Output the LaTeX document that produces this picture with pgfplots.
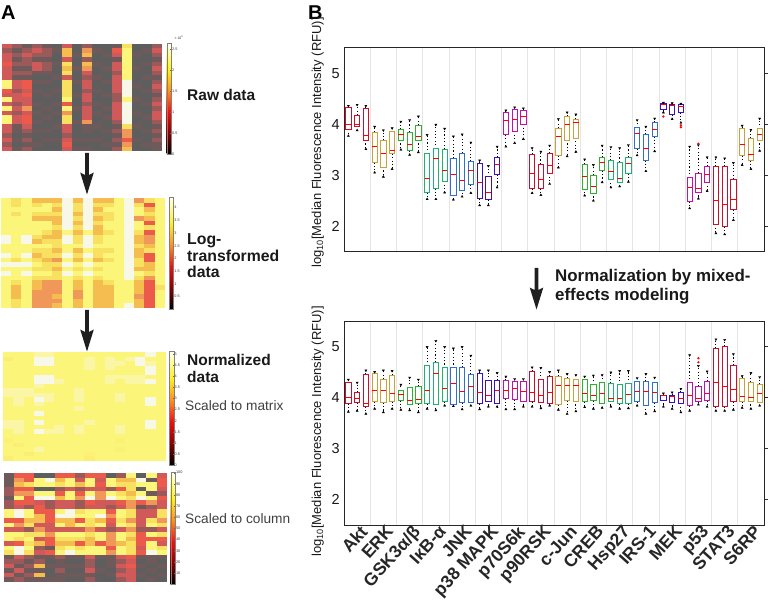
\documentclass[border=0pt]{standalone}
\usepackage{fontspec}
\setmainfont{Liberation Sans}
\usepackage{pgfplots}
\usepackage{pgfplotstable}
\usepgfplotslibrary{statistics}
\pgfplotsset{compat=1.18}

\newcommand\fs[1]{\fontsize{#1}{#1}\selectfont}

\definecolor{cR}{HTML}{C8102E}
\definecolor{cT}{HTML}{C9A23C}
\definecolor{cG}{HTML}{30B030}
\definecolor{cE}{HTML}{20B070}
\definecolor{cB}{HTML}{3070C8}
\definecolor{cI}{HTML}{3A10C0}
\definecolor{cM}{HTML}{C010B0}

% what the cells look like in the figure, and the hot map of the colour bars
\pgfplotsset{
  colormap={cells}{
    HTML(0)=(5E5E5E) HTML(1)=(6E5A5A) HTML(2)=(9A5A5A)
    HTML(3)=(D05A5A) HTML(4)=(EC5A4C) HTML(5)=(F0985A)
    HTML(6)=(F5BC50) HTML(7)=(F8E060) HTML(8)=(FBF57A)
    HTML(9)=(F8F8E8)},
  colormap={hotbar}{
    HTML(0)=(000000) HTML(19)=(8B0000) HTML(38)=(F01010)
    HTML(57)=(FF9020) HTML(76)=(FFF020) HTML(95)=(FFFFC0)
    HTML(100)=(FFFFFF)},
}

% one heat map cell, half sizes in \cw and \ch, filled and never stroked
\pgfdeclareplotmark{cell}{%
  \pgfpathrectangle{\pgfpoint{-\cw pt}{-\ch pt}}{\pgfpoint{2*\cw pt}{2*\ch pt}}%
  \pgfusepathqfill}

\pgfplotstableread[header=false]{
3 2 1 2 1 0 3 0 2 0 0 1 7 0 0 2
2 1 2 3 2 1 6 0 5 1 0 4 8 0 1 3
3 2 3 2 2 0 6 1 6 0 1 3 8 1 0 2
3 1 2 1 1 0 3 0 2 0 0 1 8 0 0 1
4 2 2 3 2 1 7 0 6 1 0 3 8 0 1 2
3 1 1 3 2 0 6 1 5 0 1 3 8 1 0 3
3 2 2 1 1 0 7 0 3 0 0 2 8 0 0 2
3 1 1 0 0 1 3 0 2 1 0 3 8 0 1 1
8 3 4 1 1 0 7 1 3 0 1 3 9 0 0 2
8 3 4 0 0 0 7 0 3 0 0 3 9 1 0 3
4 2 3 1 0 1 7 0 2 1 0 3 9 0 1 2
3 3 4 0 1 0 7 1 3 0 1 2 9 0 0 1
8 3 3 0 0 0 8 0 3 0 0 2 8 1 0 2
3 2 3 1 0 1 4 0 2 1 0 3 9 0 1 3
8 3 5 0 1 0 8 1 3 0 1 3 9 0 0 2
3 2 3 1 0 1 5 0 3 1 0 3 9 1 0 3
8 3 4 0 1 0 7 0 3 0 1 3 9 0 1 3
8 3 4 1 0 0 7 1 5 0 0 2 9 0 0 2
3 1 3 0 0 1 3 0 1 1 0 1 7 1 0 1
3 1 2 1 1 0 3 0 1 0 1 2 5 0 1 2
2 0 1 0 0 0 2 0 0 0 0 1 5 0 0 1
3 1 2 0 1 1 3 1 1 1 0 2 4 1 0 2
2 0 1 1 0 0 4 0 0 0 1 1 5 0 1 1
3 1 2 0 0 0 3 1 1 0 0 2 6 0 0 1
}\heatraw

\pgfplotstableread[header=false]{
8 7 8 6 6 6 9 6 9 6 6 8 9 5 7 8
8 7 8 7 8 7 9 7 9 7 7 8 9 7 4 8
8 8 8 8 8 6 9 7 9 6 8 8 9 8 6 8
8 7 8 7 7 7 9 6 9 7 7 8 9 8 7 8
8 8 8 6 6 6 9 7 9 6 7 8 9 5 6 8
8 8 8 8 8 6 9 6 9 7 8 8 9 8 4 8
8 8 8 8 8 7 9 7 9 6 8 8 9 8 7 8
8 8 8 8 7 6 8 6 8 6 7 8 9 7 4 8
9 8 9 7 6 6 9 7 9 7 8 8 9 6 5 8
9 8 9 6 7 7 9 7 9 7 8 8 9 6 5 8
8 8 8 8 8 7 8 8 9 8 8 8 9 7 6 8
8 8 8 7 7 6 8 6 8 7 7 8 9 6 7 8
9 8 9 6 7 7 9 7 9 7 8 8 9 6 4 8
8 7 8 7 6 5 8 6 8 6 7 8 9 7 4 8
9 9 9 8 7 7 9 8 9 8 8 8 9 7 6 8
8 8 8 7 7 6 8 7 8 7 8 8 9 6 6 8
9 8 9 8 8 7 9 8 9 8 8 8 9 8 7 8
8 8 8 7 7 7 8 7 8 7 8 8 9 7 5 8
8 7 8 6 5 5 8 6 8 6 7 8 8 6 4 8
8 6 8 6 5 5 8 6 8 6 6 8 8 6 4 7
8 6 8 5 5 5 8 5 8 6 6 8 8 6 4 8
8 6 8 5 5 6 8 5 8 6 6 8 8 5 4 8
8 7 8 5 5 5 8 6 8 6 6 8 8 6 4 8
8 7 8 5 5 6 8 6 8 6 6 8 9 6 4 8
}\heatlog

\pgfplotstableread[header=false]{
8 8 8 8.4 8.4 8 8 8 8 8 8 8 8 8 9 8
7.7 8 8 9 9 8 8 8 8.4 8 8.4 8 8.4 9 8 8
8 8 8 9 9 8 8 8 8.4 8 8.4 8.4 8 9 8.4 8
8 8 8 8 8 8 8 8 8.4 8 8.4 8 8 8 9 8
8 8 8 8 8 8 8 8 8 8 8 8 8 8 9 8
8 8 8 9 9 8 8 8 8 8 8.4 8.4 8.4 8.4 8 8
8 8 8 9 9 8.4 8 8 8 8 8.4 8 8.4 8.4 9 8
8 8 8 8.4 8 8 8 8 8 8 8 8 8 8 8 8
8.4 8.4 8.4 8 8 8 8 8.4 8 8 8 8 8 8 8 8
8.4 8.4 8.4 8.4 8.4 8 8 8.4 8 8 8 8.4 8 8 8 8
8 8.4 8 9 8.4 8 8 8.4 8 8 8 8.4 8 8 9 8
8 8.4 8 8.4 8 8 8 8 8 8 8 8 8 8 9 8
8 8 8 8 8 8 8 8.4 8 8 8 8 8 8 8 8
8 8 8 9 8 8 8 8 8 8 8 8 8 8 8 8
8 8 8 8 8 8 8 8 8 8 8 8 8 8 8 8
8.4 8.4 8 9 8 8 8 8 8.4 8 8 8 8 8 9 8
8.4 8.4 8 8 8 8.4 8 8.4 8 8 8 8.4 8 8 9 8
8 8.4 8 9 8.4 8.4 8 8.4 8 8 8 8.4 8 8 8 8
8 8 8 8 8 8 8 8 8 8 8 8 8 8 8 8
7.8 8 8 8 8 8 8 8 8 8 8 7.8 8 8 8 8
8 7.7 8 8 8 8 8 8 8 8 8 8 8 8 8 8
8 8 8 8.4 8 8 8 8 8 8 8 7.8 8 8 8 8
8 8 7.7 8 8 8 8 8 7.8 8 8 8 8 8 8 8
7.7 8 8 8 8 8 8 8 7.7 8 8 8 8 8 8 8
}\heatnorm

\pgfplotstableread[header=false]{
1 4 4 0 0 4 4 2 4 4 0 2 8 0 8 3
1 5 4 8 9 6 8 3 8 3 8 6 6 9 1 4
1 6 7 8 8 7 8 6 8 4 8 7 7 8 8 4
2 4 4 0 0 2 3 2 3 3 2 4 7 0 8 3
2 5 5 8 8 4 8 4 8 5 8 7 6 8 1 2
1 8 4 9 9 6 8 5 9 5 9 8 7 9 8 4
2 4 4 3 2 3 3 2 4 3 3 4 5 4 5 3
2 3 2 4 2 3 3 2 3 3 2 3 5 1 2 3
8 9 8 4 4 8 9 7 8 8 4 8 7 3 3 7
8 9 8 6 4 9 9 8 8 9 5 8 7 3 3 7
4 4 6 6 4 6 6 4 7 6 4 7 5 3 7 5
8 5 7 3 3 8 6 8 7 8 3 8 7 3 8 7
3 3 2 5 3 3 3 3 5 3 2 3 5 2 2 3
8 8 7 7 5 8 8 8 7 8 5 8 7 4 8 7
8 7 8 3 4 7 7 7 6 8 5 8 6 4 4 4
3 4 7 6 4 6 6 4 6 4 5 6 7 4 8 3
8 9 8 2 1 7 8 7 8 8 4 8 7 3 8 7
7 9 7 3 4 8 9 8 8 8 5 8 7 4 9 8
1 3 2 1 1 2 1 1 3 1 1 3 4 1 1 1
2 2 1 2 0 1 0 0 2 0 1 2 3 0 1 0
3 1 2 6 1 1 1 1 2 0 1 3 4 1 0 1
1 3 1 1 0 2 0 0 3 1 0 2 3 0 1 0
3 1 2 6 0 1 1 1 1 0 1 3 3 1 0 1
1 2 1 1 1 1 0 0 2 0 0 2 3 0 1 0
}\heatcol

% #1 x, #2 y of the lower left corner, #3 width, #4 height, #5 table
\newcommand\heat[5]{
  \pgfmathsetmacro\cw{#3/32+0.02}
  \pgfmathsetmacro\ch{#4/48+0.02}
  \begin{axis}[at={(#1pt,#2pt)},anchor=south west,scale only axis,
    width=#3pt,height=#4pt,hide axis,xmin=-0.5,xmax=15.5,ymin=-0.5,ymax=23.5,
    y dir=reverse,colormap name=cells,point meta min=0,point meta max=9]
    \pgfplotsinvokeforeach{0,...,15}{
      \addplot[scatter,only marks,mark=cell,point meta=explicit,
        scatter/use mapped color={draw=none,fill=mapped color}]
        table[x expr=##1,y expr=\coordindex,meta index=##1]{#5};
    }
    % the pale lines between the cells
    \pgfplotsinvokeforeach{0.5,1.5,...,14.5}{
      \draw[white,opacity=0.5,line width=0.7pt] (axis cs:##1,-0.5) -- (axis cs:##1,23.5);
    }
    \pgfplotsinvokeforeach{0.5,1.5,...,22.5}{
      \draw[white,opacity=0.18,line width=0.5pt] (axis cs:-0.5,##1) -- (axis cs:15.5,##1);
    }
  \end{axis}
}

% #1 x, #2 y, #3 height, #4 top of the scale, #5 ticks
\newcommand\cbar[5]{
  \begin{axis}[at={(#1pt,#2pt)},anchor=south west,scale only axis,
    width=4.6pt,height=#3pt,hide axis,colormap name=hotbar,
    point meta min=0,point meta max=#4,colorbar,
    colorbar style={at={(0,0)},anchor=south west,width=4.6pt,height=#3pt,
      ytick={#5},major tick length=1pt,tick align=inside,
      tick style={black!60,line width=0.2pt},
      axis line style={black!50,line width=0.3pt},
      yticklabel style={font=\fs{3.8},black!80,inner sep=0.6pt,
        /pgf/number format/assume math mode=true}}]
    \addplot[draw=none] coordinates {(0,0)(1,1)};
  \end{axis}
}

% colour, position, lower whisker, lower quartile, median, upper quartile, upper whisker
\newcommand\bx[7]{
  \addplot[draw=#1,boxplot prepared={draw position=#2,lower whisker=#3,
    lower quartile=#4,median=#5,upper quartile=#6,upper whisker=#7}] coordinates {};
  \addplot[only marks,mark=triangle*,mark size=1.2pt,black] coordinates {(#2,#3)};
  \addplot[only marks,mark=triangle*,mark size=1.2pt,black,mark options={rotate=180}] coordinates {(#2,#7)};
}

\pgfplotsset{
  boxpanel/.style={at={(344pt,#1pt)},anchor=south west,scale only axis,
    width=420pt,height=204pt,xmin=0.5,xmax=48.5,ymin=1.5,ymax=5.5,
    ytick={2,3,4,5},ytick pos=right,yticklabel pos=left,tick align=outside,
    major tick length=4pt,minor tick length=0pt,
    xtick={2,5,...,47},xtick style={draw=none},
    minor xtick={3.5,6.5,...,45.5},xminorgrids=true,
    minor x grid style={black!10,line width=0.7pt},
    axis line style={black!85,line width=1pt},
    ytick style={black!80,line width=0.7pt},
    yticklabel style={font=\fs{14.5},black!90,inner sep=1pt,xshift=1pt,
      /pgf/number format/assume math mode=true},
    boxplot/draw direction=y,
    boxplot/box extend=0.6,boxplot/whisker extend=0,
    boxplot/every box/.style={line width=0.85pt},
    boxplot/every median/.style={draw=red,line width=0.95pt},
    boxplot/every whisker/.style={draw=black,line width=0.95pt,dash pattern=on 1.1pt off 2.3pt},
  },
}

\begin{document}
\begin{tikzpicture}[x=1pt,y=1pt]
\path[use as bounding box] (0,0) rectangle (770,610);

% panel A
\heat{2}{459}{160}{107}{\heatraw}
\heat{1}{302}{164}{110}{\heatlog}
\heat{3.3}{149.3}{162.4}{108.4}{\heatnorm}
\heat{4}{28}{162.7}{109}{\heatcol}
\cbar{166.7}{456}{110.7}{2.63}{0,0.5,1,1.5,2,2.5}
\cbar{169}{300.7}{112.6}{4.43}{0.5,1,1.5,2,2.5,3,3.5,4}
\cbar{169.3}{145}{114}{5.15}{0,0.5,1,1.5,2,2.5,3,3.5,4,4.5,5}
\cbar{170.7}{25.7}{112.3}{100.6}{10,20,...,100}
\node[font=\fs{3.5},black!80,anchor=base west] at (171,570) {× 10\textsuperscript{5}};

\node[font=\fs{20}\bfseries,anchor=base west,inner sep=0pt] at (1,590) {A};
\node[font=\fs{20}\bfseries,anchor=base west,inner sep=0pt] at (308,590) {B};

\node[font=\fs{15.5}\bfseries,anchor=base west,inner sep=0pt,black!90] at (187,509.5) {Raw data};
\node[font=\fs{15.8}\bfseries,anchor=base west,inner sep=0pt,black!90] at (187,365) {Log-};
\node[font=\fs{15.8}\bfseries,anchor=base west,inner sep=0pt,black!90] at (187,348.3) {transformed};
\node[font=\fs{15.8}\bfseries,anchor=base west,inner sep=0pt,black!90] at (187,332.3) {data};
\node[font=\fs{15.5}\bfseries,anchor=base west,inner sep=0pt,black!90] at (187,244) {Normalized};
\node[font=\fs{15.5}\bfseries,anchor=base west,inner sep=0pt,black!90] at (187,227.3) {data};
\node[font=\fs{13.7},anchor=base west,inner sep=0pt,black!75] at (185,199) {Scaled to matrix};
\node[font=\fs{13.7},anchor=base west,inner sep=0pt,black!75] at (185,86) {Scaled to column};

% arrows between the steps
\foreach \ax/\atop in {87/457,87/300,536.5/342}{
  \fill[black!88] (\ax-1.8,\atop) -- (\ax+1.8,\atop) -- (\ax+1.8,\atop-22)
    -- (\ax+6.8,\atop-19.5) -- (\ax,\atop-41.5) -- (\ax-6.8,\atop-19.5) -- (\ax-1.8,\atop-22) -- cycle;
}
\node[font=\fs{16.9}\bfseries,anchor=base west,inner sep=0pt,black!90] at (555,328) {Normalization by mixed-};
\node[font=\fs{16.9}\bfseries,anchor=base west,inner sep=0pt,black!90] at (555,309) {effects modeling};

% panel B, top
\begin{axis}[boxpanel=358.3,xticklabels={}]
\bx{cR}{1}{3.77}{3.9}{4.0}{4.33}{4.36}
\bx{cR}{2}{3.88}{3.96}{4.0}{4.18}{4.38}
\bx{cR}{3}{3.51}{3.69}{3.78}{4.31}{4.36}
\bx{cT}{4}{3.05}{3.25}{3.56}{3.84}{3.95}
\bx{cT}{5}{2.97}{3.16}{3.43}{3.68}{3.88}
\bx{cT}{6}{3.12}{3.42}{3.49}{3.85}{3.92}
\bx{cG}{7}{3.5}{3.69}{3.8}{3.9}{4.05}
\bx{cG}{8}{3.4}{3.48}{3.6}{3.84}{4.08}
\bx{cG}{9}{3.45}{3.69}{3.76}{3.98}{4.15}
\bx{cE}{10}{2.53}{2.66}{2.94}{3.42}{3.79}
\bx{cE}{11}{2.53}{2.74}{3.33}{3.52}{3.99}
\bx{cE}{12}{2.66}{2.88}{3.1}{3.51}{3.91}
\bx{cB}{13}{2.52}{2.61}{3.02}{3.33}{3.76}
\bx{cB}{14}{2.58}{2.71}{2.89}{3.43}{3.8}
\bx{cB}{15}{2.65}{2.81}{3.1}{3.27}{3.64}
\bx{cI}{16}{2.41}{2.54}{2.86}{3.23}{3.29}
\bx{cI}{17}{2.41}{2.52}{2.66}{2.97}{3.18}
\bx{cI}{18}{2.76}{3.01}{3.21}{3.35}{3.56}
\bx{cM}{19}{3.56}{3.79}{4.07}{4.24}{4.27}
\bx{cM}{20}{3.63}{3.86}{4.1}{4.28}{4.33}
\bx{cM}{21}{3.71}{4.0}{4.16}{4.27}{4.31}
\bx{cR}{22}{2.65}{2.74}{3.04}{3.41}{3.53}
\bx{cR}{23}{2.61}{2.74}{2.92}{3.22}{3.46}
\bx{cR}{24}{2.83}{3.04}{3.2}{3.43}{3.58}
\bx{cT}{25}{3.15}{3.38}{3.75}{3.92}{4.1}
\bx{cT}{26}{3.37}{3.69}{4.0}{4.16}{4.23}
\bx{cT}{27}{3.46}{3.73}{4.03}{4.1}{4.19}
\bx{cG}{28}{2.6}{2.73}{2.97}{3.22}{3.31}
\bx{cG}{29}{2.5}{2.65}{2.78}{3.0}{3.2}
\bx{cG}{30}{2.86}{3.09}{3.25}{3.35}{3.58}
\bx{cE}{31}{2.76}{2.92}{3.08}{3.29}{3.55}
\bx{cE}{32}{2.78}{2.86}{2.93}{3.26}{3.53}
\bx{cE}{33}{2.87}{3.03}{3.22}{3.35}{3.59}
\bx{cB}{34}{3.39}{3.52}{3.81}{3.93}{4.08}
\bx{cB}{35}{3.08}{3.29}{3.53}{3.8}{3.95}
\bx{cB}{36}{3.47}{3.76}{3.89}{4.04}{4.11}
\bx{cI}{37}{4.23}{4.28}{4.38}{4.4}{4.42}
\bx{cI}{38}{4.1}{4.19}{4.37}{4.39}{4.41}
\bx{cI}{39}{4.03}{4.23}{4.34}{4.38}{4.4}
\bx{cM}{40}{2.35}{2.48}{2.76}{2.95}{3.56}
\bx{cM}{41}{2.54}{2.67}{2.74}{3.04}{3.59}
\bx{cM}{42}{2.69}{2.86}{3.02}{3.18}{3.35}
\bx{cR}{43}{1.86}{2.04}{2.5}{3.17}{3.35}
\bx{cR}{44}{1.84}{1.99}{2.42}{3.17}{3.33}
\bx{cR}{45}{2.12}{2.32}{2.53}{2.92}{3.24}
\bx{cT}{46}{3.2}{3.38}{3.6}{3.92}{3.97}
\bx{cT}{47}{3.12}{3.29}{3.41}{3.72}{3.89}
\bx{cT}{48}{3.48}{3.69}{3.8}{3.91}{4.11}
\addplot[only marks,mark=*,mark size=0.9pt,red] coordinates {(37,4.15)(39,3.98)(39,3.94)(41,3.62)};
\end{axis}

% panel B, bottom
\begin{axis}[boxpanel=85,
  xticklabels={Akt,ERK,GSK3α/β,IκB-α,JNK,p38 MAPK,p70S6k,p90RSK,c-Jun,CREB,Hsp27,IRS-1,MEK,p53,STAT3,S6RP},
  xticklabel style={rotate=48,anchor=north east,font=\fs{17.6}\bfseries,black!85,inner sep=1pt,xshift=6pt,yshift=3pt}]
\bx{cR}{1}{3.72}{3.88}{4.0}{4.29}{4.35}
\bx{cR}{2}{3.74}{3.9}{3.99}{4.1}{4.29}
\bx{cR}{3}{3.68}{3.82}{3.89}{4.46}{4.53}
\bx{cT}{4}{3.78}{3.92}{4.13}{4.47}{4.5}
\bx{cT}{5}{3.71}{3.9}{4.14}{4.36}{4.53}
\bx{cT}{6}{3.78}{3.92}{4.07}{4.44}{4.52}
\bx{cG}{7}{3.76}{3.94}{4.05}{4.13}{4.25}
\bx{cG}{8}{3.75}{3.87}{3.94}{4.19}{4.39}
\bx{cG}{9}{3.71}{3.88}{3.97}{4.22}{4.35}
\bx{cE}{10}{3.78}{3.88}{4.14}{4.62}{4.99}
\bx{cE}{11}{3.75}{3.87}{4.48}{4.69}{5.11}
\bx{cE}{12}{3.84}{3.92}{4.18}{4.58}{4.99}
\bx{cB}{13}{3.83}{3.87}{4.27}{4.58}{4.96}
\bx{cB}{14}{3.77}{3.9}{4.12}{4.59}{4.99}
\bx{cB}{15}{3.84}{3.91}{4.22}{4.46}{4.82}
\bx{cI}{16}{3.77}{3.88}{4.1}{4.48}{4.53}
\bx{cI}{17}{3.82}{3.93}{4.03}{4.33}{4.53}
\bx{cI}{18}{3.82}{3.89}{4.13}{4.34}{4.48}
\bx{cM}{19}{3.77}{3.98}{4.14}{4.34}{4.41}
\bx{cM}{20}{3.77}{3.96}{4.18}{4.31}{4.36}
\bx{cM}{21}{3.82}{3.93}{4.11}{4.31}{4.36}
\bx{cR}{22}{3.82}{3.92}{4.09}{4.52}{4.59}
\bx{cR}{23}{3.79}{3.91}{4.03}{4.35}{4.58}
\bx{cR}{24}{3.84}{3.88}{4.1}{4.41}{4.5}
\bx{cT}{25}{3.76}{3.86}{4.24}{4.42}{4.53}
\bx{cT}{26}{3.68}{3.94}{4.24}{4.38}{4.46}
\bx{cT}{27}{3.73}{3.93}{4.24}{4.35}{4.44}
\bx{cG}{28}{3.81}{3.92}{4.07}{4.35}{4.41}
\bx{cG}{29}{3.78}{3.94}{4.03}{4.25}{4.43}
\bx{cG}{30}{3.8}{3.89}{4.08}{4.29}{4.44}
\bx{cE}{31}{3.82}{3.93}{3.99}{4.28}{4.49}
\bx{cE}{32}{3.78}{3.88}{3.98}{4.25}{4.52}
\bx{cE}{33}{3.79}{3.88}{4.05}{4.27}{4.52}
\bx{cB}{34}{3.84}{3.92}{4.11}{4.31}{4.38}
\bx{cB}{35}{3.68}{3.85}{4.11}{4.32}{4.46}
\bx{cB}{36}{3.73}{3.9}{4.09}{4.29}{4.39}
\bx{cI}{37}{3.82}{3.95}{4.03}{4.05}{4.08}
\bx{cI}{38}{3.78}{3.91}{4.02}{4.04}{4.1}
\bx{cI}{39}{3.71}{3.89}{3.99}{4.1}{4.17}
\bx{cM}{40}{3.74}{3.84}{4.03}{4.29}{4.83}
\bx{cM}{41}{3.86}{3.92}{3.98}{4.22}{4.62}
\bx{cM}{42}{3.82}{3.94}{4.07}{4.32}{4.51}
\bx{cR}{43}{3.74}{3.82}{4.3}{4.96}{5.14}
\bx{cR}{44}{3.74}{3.82}{4.22}{5.0}{5.13}
\bx{cR}{45}{3.76}{3.92}{4.15}{4.63}{4.85}
\bx{cT}{46}{3.8}{3.92}{4.02}{4.38}{4.42}
\bx{cT}{47}{3.78}{3.93}{4.01}{4.3}{4.48}
\bx{cT}{48}{3.84}{3.91}{4.08}{4.26}{4.4}
\addplot[only marks,mark=*,mark size=0.9pt,red] coordinates {(41,4.77)(41,4.69)};
\end{axis}

\node[rotate=90,font=\fs{13},anchor=base west,inner sep=0pt,black!90] at (321,342) {log\textsubscript{10}[Median Fluorescence Intensity (RFU)]};
\node[rotate=90,font=\fs{13},anchor=base west,inner sep=0pt,black!90] at (321,53) {log\textsubscript{10}[Median Fluorescence Intensity (RFU)]};
\end{tikzpicture}
\end{document}
